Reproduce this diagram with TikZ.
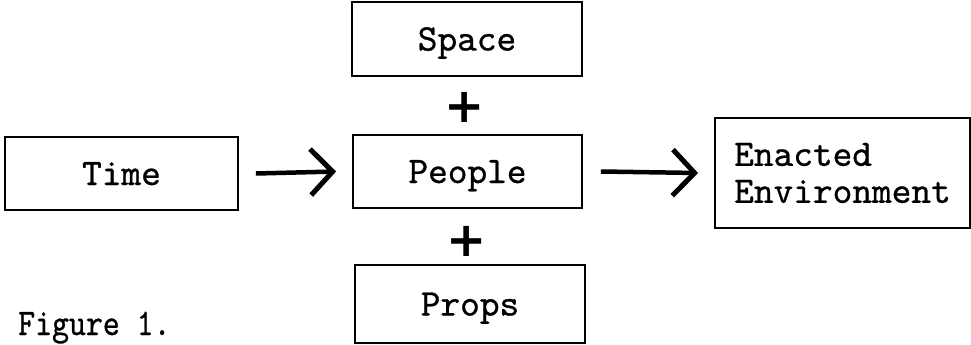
\documentclass[tikz,border=0pt]{standalone}
\usepackage{fontspec}
\usepackage{graphicx}
\newfontfamily\plusfont{DejaVu Sans}
\newfontfamily\typew{lmmono10-regular.otf}[FakeBold=0.8]
\usetikzlibrary{arrows.meta}
\begin{document}
\begin{tikzpicture}[x=1pt,y=-1pt,
  txt/.style={font=\typew\fontsize{37.5}{37}\selectfont},
  box/.style={draw, line width=1.8pt, inner sep=0pt, txt, text height=23pt, text depth=0pt},
  plussign/.style={inner sep=0pt, font=\plusfont\bfseries\fontsize{48}{48}\selectfont},
  arr/.style={line width=4.5pt, -{Straight Barb[length=22pt,width=46pt,line width=5pt]}}
]
\useasboundingbox (0,0) rectangle (971,345);
\node[box, minimum width=233pt, minimum height=73pt] (time) at (121.5,173.5) {Time};
\node[box, minimum width=230pt, minimum height=74pt] (space) at (467,39) {Space};
\node[box, minimum width=229pt, minimum height=73pt] (people) at (467.5,171.5) {People};
\node[box, minimum width=230pt, minimum height=78pt] (props) at (470,304) {Props};
\node[box, minimum width=255pt, minimum height=110pt, align=left, text height=, text depth=] (ee) at (842.5,173) {Enacted\\Environment};
\node[plussign] (plus1) at (465,107) {+};
\node[plussign] (plus2) at (467,241) {+};
\node[anchor=base west, inner sep=0pt, txt] (fig) at (18,335) {\scalebox{0.86}[1]{Figure 1.}};
\draw[arr] ([xshift=17pt]time.east) -- ([xshift=-16pt]people.west);
\draw[arr] ([xshift=18pt]people.east) -- ([xshift=-16pt]ee.west);
\end{tikzpicture}
\end{document}
